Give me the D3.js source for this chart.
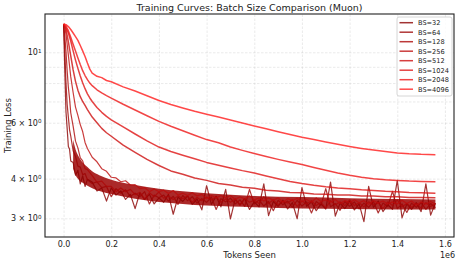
<!DOCTYPE html>
<html>
<head>
<meta charset="utf-8">
<script src="https://cdn.jsdelivr.net/npm/d3@7"></script>
<style>
body { margin: 0; background: #fff; }
text { font-family: "DejaVu Sans", sans-serif; fill: #222; }
</style>
</head>
<body>
<div id="content"></div>
<script>
// tokens are in units of 1e6
var batchSizes = [32, 64, 128, 256, 512, 1024, 2048, 4096];

var tokensFine = [0, 0.005, 0.01, 0.015, 0.02, 0.025, 0.03, 0.04, 0.05, 0.06, 0.07, 0.08, 0.09, 0.10,
    0.12, 0.14, 0.16, 0.18, 0.20, 0.22, 0.24, 0.26, 0.28, 0.30,
    0.32, 0.34, 0.36, 0.38, 0.40, 0.42, 0.44, 0.46, 0.48, 0.50,
    0.52, 0.54, 0.56, 0.58, 0.60, 0.62, 0.64, 0.66, 0.68, 0.70,
    0.72, 0.74, 0.76, 0.78, 0.80, 0.82, 0.84, 0.86, 0.88, 0.90,
    0.92, 0.94, 0.96, 0.98, 1.00, 1.02, 1.04, 1.06, 1.08, 1.10,
    1.12, 1.14, 1.16, 1.18, 1.20, 1.22, 1.24, 1.26, 1.28, 1.30,
    1.32, 1.34, 1.36, 1.38, 1.40, 1.42, 1.44, 1.46, 1.48, 1.50,
    1.52, 1.54, 1.56];

var tokensCoarse = [0, 0.01, 0.02, 0.03, 0.04, 0.05, 0.06, 0.07, 0.08, 0.09, 0.10, 0.11, 0.12,
    0.14, 0.16, 0.18, 0.20, 0.25, 0.30, 0.35, 0.40, 0.45, 0.50, 0.55, 0.60, 0.65, 0.70,
    0.75, 0.80, 0.85, 0.90, 0.95, 1.00, 1.05, 1.10, 1.15, 1.20, 1.25, 1.30, 1.35, 1.40,
    1.45, 1.50, 1.56];

var loss32 = [12.28, 8.8, 6.5, 5.75, 5.05, 4.95, 4.55, 4.5, 4.1, 4.25, 3.85, 4.08, 3.78, 3.98,
    3.90, 3.66, 3.74, 3.40, 3.74, 3.55, 3.66, 3.44, 3.57, 3.22,
    3.61, 3.44, 3.57, 3.33, 3.48, 3.37, 3.57, 3.09, 3.50, 3.39,
    3.53, 3.32, 3.45, 3.19, 3.80, 3.32, 3.52, 3.26, 3.70, 2.99,
    3.45, 3.31, 3.46, 3.20, 3.38, 3.26, 3.85, 3.06, 3.39, 3.27,
    3.42, 3.21, 3.36, 2.99, 3.75, 3.27, 3.38, 3.17, 3.33, 3.21,
    3.90, 3.05, 3.35, 3.22, 3.40, 3.19, 3.33, 2.93, 3.78, 3.25,
    3.40, 3.15, 3.31, 3.20, 3.95, 3.01, 3.33, 3.20, 3.36, 3.15,
    3.85, 3.07, 3.35];

var loss64 = [12.28, 10.2, 8.05, 6.85, 6.25, 5.7, 5.45, 4.9, 4.7, 4.38, 4.35, 4.12, 4.15, 3.97,
    3.86, 3.91, 3.75, 3.78, 3.51, 3.72, 3.60, 3.69, 3.52, 3.60,
    3.51, 3.64, 3.33, 3.55, 3.48, 3.55, 3.40, 3.52, 3.32, 3.54,
    3.41, 3.51, 3.35, 3.46, 3.37, 3.50, 3.20, 3.46, 3.38, 3.47,
    3.33, 3.43, 3.27, 3.70, 3.33, 3.43, 3.28, 3.39, 3.17, 3.42,
    3.31, 3.40, 3.25, 3.42, 3.28, 3.38, 3.12, 3.39, 3.30, 3.72,
    3.26, 3.34, 3.18, 3.39, 3.27, 3.38, 3.21, 3.35, 3.25, 3.39,
    3.12, 3.35, 3.27, 3.65, 3.22, 3.33, 3.13, 3.35, 3.25, 3.36,
    3.20, 3.34, 3.24];

var loss128 = [12.28, 11.3, 10.05, 8.75, 7.75, 7.15, 6.45, 5.85, 5.25, 5.0, 4.65, 4.55, 4.3, 4.27,
    4.09, 3.90, 3.93, 3.78, 3.78, 3.64, 3.74, 3.64, 3.70, 3.56,
    3.62, 3.45, 3.61, 3.51, 3.63, 3.47, 3.53, 3.44, 3.53, 3.46,
    3.53, 3.37, 3.49, 3.41, 3.50, 3.42, 3.51, 3.37, 3.45, 3.37,
    3.45, 3.30, 3.46, 3.37, 3.42, 3.34, 3.51, 3.34, 3.43, 3.31,
    3.40, 3.35, 3.43, 3.27, 3.40, 3.33, 3.41, 3.29, 3.37, 3.23,
    3.41, 3.31, 3.38, 3.29, 3.43, 3.29, 3.36, 3.26, 3.38, 3.31,
    3.36, 3.22, 3.38, 3.29, 3.43, 3.26, 3.34, 3.25, 3.35, 3.23,
    3.36, 3.27, 3.34];

var loss256 = [12.28, 12.0, 11.4, 10.6, 9.8, 9.05, 8.38, 7.47, 6.72, 6.33, 5.92, 5.63, 5.2, 4.98,
    4.67, 4.52, 4.30, 4.22, 4.04, 4.02, 3.91, 3.94, 3.82, 3.83,
    3.72, 3.75, 3.64, 3.71, 3.64, 3.68, 3.59, 3.67, 3.55, 3.60,
    3.54, 3.61, 3.53, 3.57, 3.46, 3.54, 3.48, 3.54, 3.48, 3.54,
    3.44, 3.51, 3.45, 3.53, 3.43, 3.48, 3.40, 3.48, 3.42, 3.48,
    3.37, 3.46, 3.41, 3.47, 3.39, 3.44, 3.37, 3.48, 3.39, 3.43,
    3.37, 3.44, 3.34, 3.41, 3.36, 3.43, 3.36, 3.41, 3.32, 3.41,
    3.35, 3.40, 3.33, 3.38, 3.33, 3.42, 3.34, 3.40, 3.30, 3.38,
    3.33, 3.39, 3.32];

var loss512 = [12.28, 11.8, 10.8, 9.75, 8.8, 8.1, 7.6, 7.25, 7.0, 6.8, 6.6, 6.42, 6.25,
    6.0, 5.76, 5.58, 5.44, 5.1, 4.84, 4.6, 4.40, 4.23, 4.13, 4.02, 3.95, 3.86, 3.82,
    3.76, 3.73, 3.68, 3.66, 3.62, 3.61, 3.58, 3.57, 3.55, 3.55, 3.53, 3.53, 3.51, 3.51,
    3.49, 3.49, 3.48];

var loss1024 = [12.28, 11.95, 11.5, 10.85, 10.1, 9.45, 8.9, 8.42, 8.02, 7.68, 7.4, 7.18, 7.0,
    6.7, 6.47, 6.28, 6.13, 5.82, 5.53, 5.26, 5.03, 4.87, 4.74, 4.62, 4.5, 4.41, 4.32,
    4.24, 4.17, 4.08, 4.0, 3.92, 3.86, 3.81, 3.77, 3.74, 3.72, 3.69, 3.67, 3.65, 3.64,
    3.62, 3.61, 3.60];

var loss2048 = [12.28, 12.1, 11.7, 11.15, 10.6, 10.1, 9.6, 9.15, 8.75, 8.45, 8.2, 8.0, 7.85,
    7.62, 7.45, 7.3, 7.17, 6.86, 6.58, 6.31, 6.06, 5.85, 5.66, 5.48, 5.31, 5.19, 5.03,
    4.91, 4.8, 4.7, 4.6, 4.51, 4.43, 4.34, 4.25, 4.17, 4.1, 4.04, 4.0, 3.97, 3.95,
    3.93, 3.92, 3.91];

var loss4096 = [12.28, 12.22, 12.05, 11.8, 11.5, 11.2, 10.9, 10.5, 10.1, 9.7, 9.25, 8.85, 8.6,
    8.4, 8.32, 8.15, 8.08, 7.78, 7.55, 7.3, 7.05, 6.85, 6.68, 6.52, 6.38, 6.25, 6.12,
    5.99, 5.86, 5.74, 5.62, 5.51, 5.40, 5.31, 5.22, 5.13, 5.05, 4.98, 4.92, 4.87, 4.82,
    4.79, 4.77, 4.76];

// spread of the dense noisy small-batch runs (BS 32-256)
var bandTokens = [0.04, 0.05, 0.06, 0.08, 0.10, 0.12, 0.15, 0.20, 0.30, 0.40, 0.50, 0.60, 0.80, 1.00, 1.20, 1.40, 1.56];
var bandUpper = [5.30, 4.95, 4.75, 4.50, 4.35, 4.22, 4.10, 3.97, 3.82, 3.72, 3.65, 3.60, 3.53, 3.50, 3.47, 3.45, 3.44];
var bandLower = [4.30, 4.10, 4.00, 3.88, 3.80, 3.73, 3.66, 3.58, 3.46, 3.38, 3.33, 3.29, 3.25, 3.22, 3.21, 3.20, 3.20];

var xTicks = [0, 0.2, 0.4, 0.6, 0.8, 1.0, 1.2, 1.4, 1.6];
var yGrid = [3, 4, 5, 6, 7, 8, 9, 10];
var yTickLabels = [
    {v: 3, base: "3 \u00d7 10", exp: "0"},
    {v: 4, base: "4 \u00d7 10", exp: "0"},
    {v: 6, base: "6 \u00d7 10", exp: "0"},
    {v: 10, base: "10", exp: "1"}
];

var series = [
    {bs: 32, t: tokensFine, l: loss32},
    {bs: 64, t: tokensFine, l: loss64},
    {bs: 128, t: tokensFine, l: loss128},
    {bs: 256, t: tokensFine, l: loss256},
    {bs: 512, t: tokensCoarse, l: loss512},
    {bs: 1024, t: tokensCoarse, l: loss1024},
    {bs: 2048, t: tokensCoarse, l: loss2048},
    {bs: 4096, t: tokensCoarse, l: loss4096}
];

var margin = {top: 14, right: 5, bottom: 26, left: 45},
    width = 459 - margin.left - margin.right,
    height = 263 - margin.top - margin.bottom;

var svg = d3.select("div#content").append("svg")
    .attr("width", 459)
    .attr("height", 263);

var g = svg.append("g")
    .attr("transform", "translate(" + margin.left + "," + margin.top + ")");

var x = d3.scaleLinear().domain([-0.078, 1.638]).range([0, width]);
var y = d3.scaleLog().domain([2.62, 13.2]).range([height, 0]);

var color = d3.scaleOrdinal()
    .domain(batchSizes)
    .range(batchSizes.map(function(d, i) {
        return d3.interpolateRgb("#8b0000", "#ff1a1a")(i / 7);
    }));

// grid
g.append("g")
    .attr("class", "grid")
    .attr("transform", "translate(0," + height + ")")
    .call(d3.axisBottom(x).tickValues(xTicks).tickSize(-height).tickFormat(""));
g.append("g")
    .attr("class", "grid")
    .call(d3.axisLeft(y).tickValues(yGrid).tickSize(-width).tickFormat(""));
g.selectAll(".grid .domain").remove();
g.selectAll(".grid line")
    .attr("stroke", "#b0b0b0")
    .attr("stroke-opacity", 0.45)
    .attr("stroke-width", 0.6)
    .attr("stroke-dasharray", "2.5,1.5");

// curves
var line = d3.line()
    .x(function(d) { return x(d[0]); })
    .y(function(d) { return y(d[1]); });

var plot = g.append("g").attr("clip-path", "url(#clip)");
g.append("clipPath").attr("id", "clip")
    .append("rect").attr("width", width).attr("height", height);

plot.append("path")
    .datum(bandTokens)
    .attr("fill", color(64))
    .attr("fill-opacity", 0.85)
    .attr("d", d3.area()
        .curve(d3.curveMonotoneX)
        .x(function(d) { return x(d); })
        .y0(function(d, i) { return y(bandLower[i]); })
        .y1(function(d, i) { return y(bandUpper[i]); }));

plot.selectAll(".curve")
    .data(series)
    .enter().append("path")
    .attr("class", "curve")
    .attr("fill", "none")
    .attr("stroke", function(d) { return color(d.bs); })
    .attr("stroke-opacity", 0.8)
    .attr("stroke-width", function(d) { return d.bs <= 256 ? 1.2 : 1.5; })
    .attr("stroke-linejoin", "round")
    .attr("d", function(d) {
        return line(d.t.map(function(t, i) { return [t, d.l[i]]; }));
    });

// axes
var xAxis = g.append("g")
    .attr("transform", "translate(0," + height + ")")
    .call(d3.axisBottom(x).tickValues(xTicks).tickSize(0).tickPadding(4.5)
        .tickFormat(d3.format(".1f")));
xAxis.select(".domain").remove();
xAxis.selectAll("text").style("font-size", "8px").attr("fill", "#222");

var yAxis = g.append("g")
    .call(d3.axisLeft(y).tickValues(yTickLabels.map(function(d) { return d.v; }))
        .tickSize(0).tickPadding(3.5).tickFormat(""));
yAxis.select(".domain").remove();
yAxis.selectAll("text")
    .style("font-size", "8px")
    .attr("fill", "#222")
    .each(function(v) {
        var lab = yTickLabels.filter(function(d) { return d.v === v; })[0];
        var t = d3.select(this);
        t.append("tspan").text(lab.base);
        t.append("tspan").attr("dy", "-0.45em").style("font-size", "5.6px").text(lab.exp);
    });

// frame
g.append("rect")
    .attr("width", width)
    .attr("height", height)
    .attr("fill", "none")
    .attr("stroke", "#222")
    .attr("stroke-width", 1.1);

// labels
svg.append("text")
    .attr("x", margin.left + width / 2)
    .attr("y", 10.6)
    .attr("text-anchor", "middle")
    .style("font-size", "9.5px")
    .text("Training Curves: Batch Size Comparison (Muon)");

svg.append("text")
    .attr("x", margin.left + width / 2)
    .attr("y", 257.5)
    .attr("text-anchor", "middle")
    .style("font-size", "8.5px")
    .text("Tokens Seen");

svg.append("text")
    .attr("x", 455)
    .attr("y", 257.5)
    .attr("text-anchor", "end")
    .style("font-size", "8px")
    .text("1e6");

svg.append("text")
    .attr("transform", "translate(10.5," + (margin.top + height / 2) + ") rotate(-90)")
    .attr("text-anchor", "middle")
    .style("font-size", "8.5px")
    .text("Training Loss");

// legend
var legend = svg.append("g").attr("transform", "translate(397,17)");
legend.append("rect")
    .attr("width", 55)
    .attr("height", 79)
    .attr("rx", 2)
    .attr("fill", "#fff")
    .attr("fill-opacity", 0.85)
    .attr("stroke", "#cccccc")
    .attr("stroke-width", 0.8);

var item = legend.selectAll(".item")
    .data(batchSizes)
    .enter().append("g")
    .attr("class", "item")
    .attr("transform", function(d, i) { return "translate(0," + (5.7 + i * 9.5) + ")"; });

item.append("line")
    .attr("x1", 2.5).attr("x2", 16)
    .attr("stroke", function(d) { return color(d); })
    .attr("stroke-opacity", 0.8)
    .attr("stroke-width", 1.5);

item.append("text")
    .attr("x", 21)
    .attr("dy", "0.35em")
    .style("font-size", "6.6px")
    .text(function(d) { return "BS=" + d; });
</script>
</body>
</html>
